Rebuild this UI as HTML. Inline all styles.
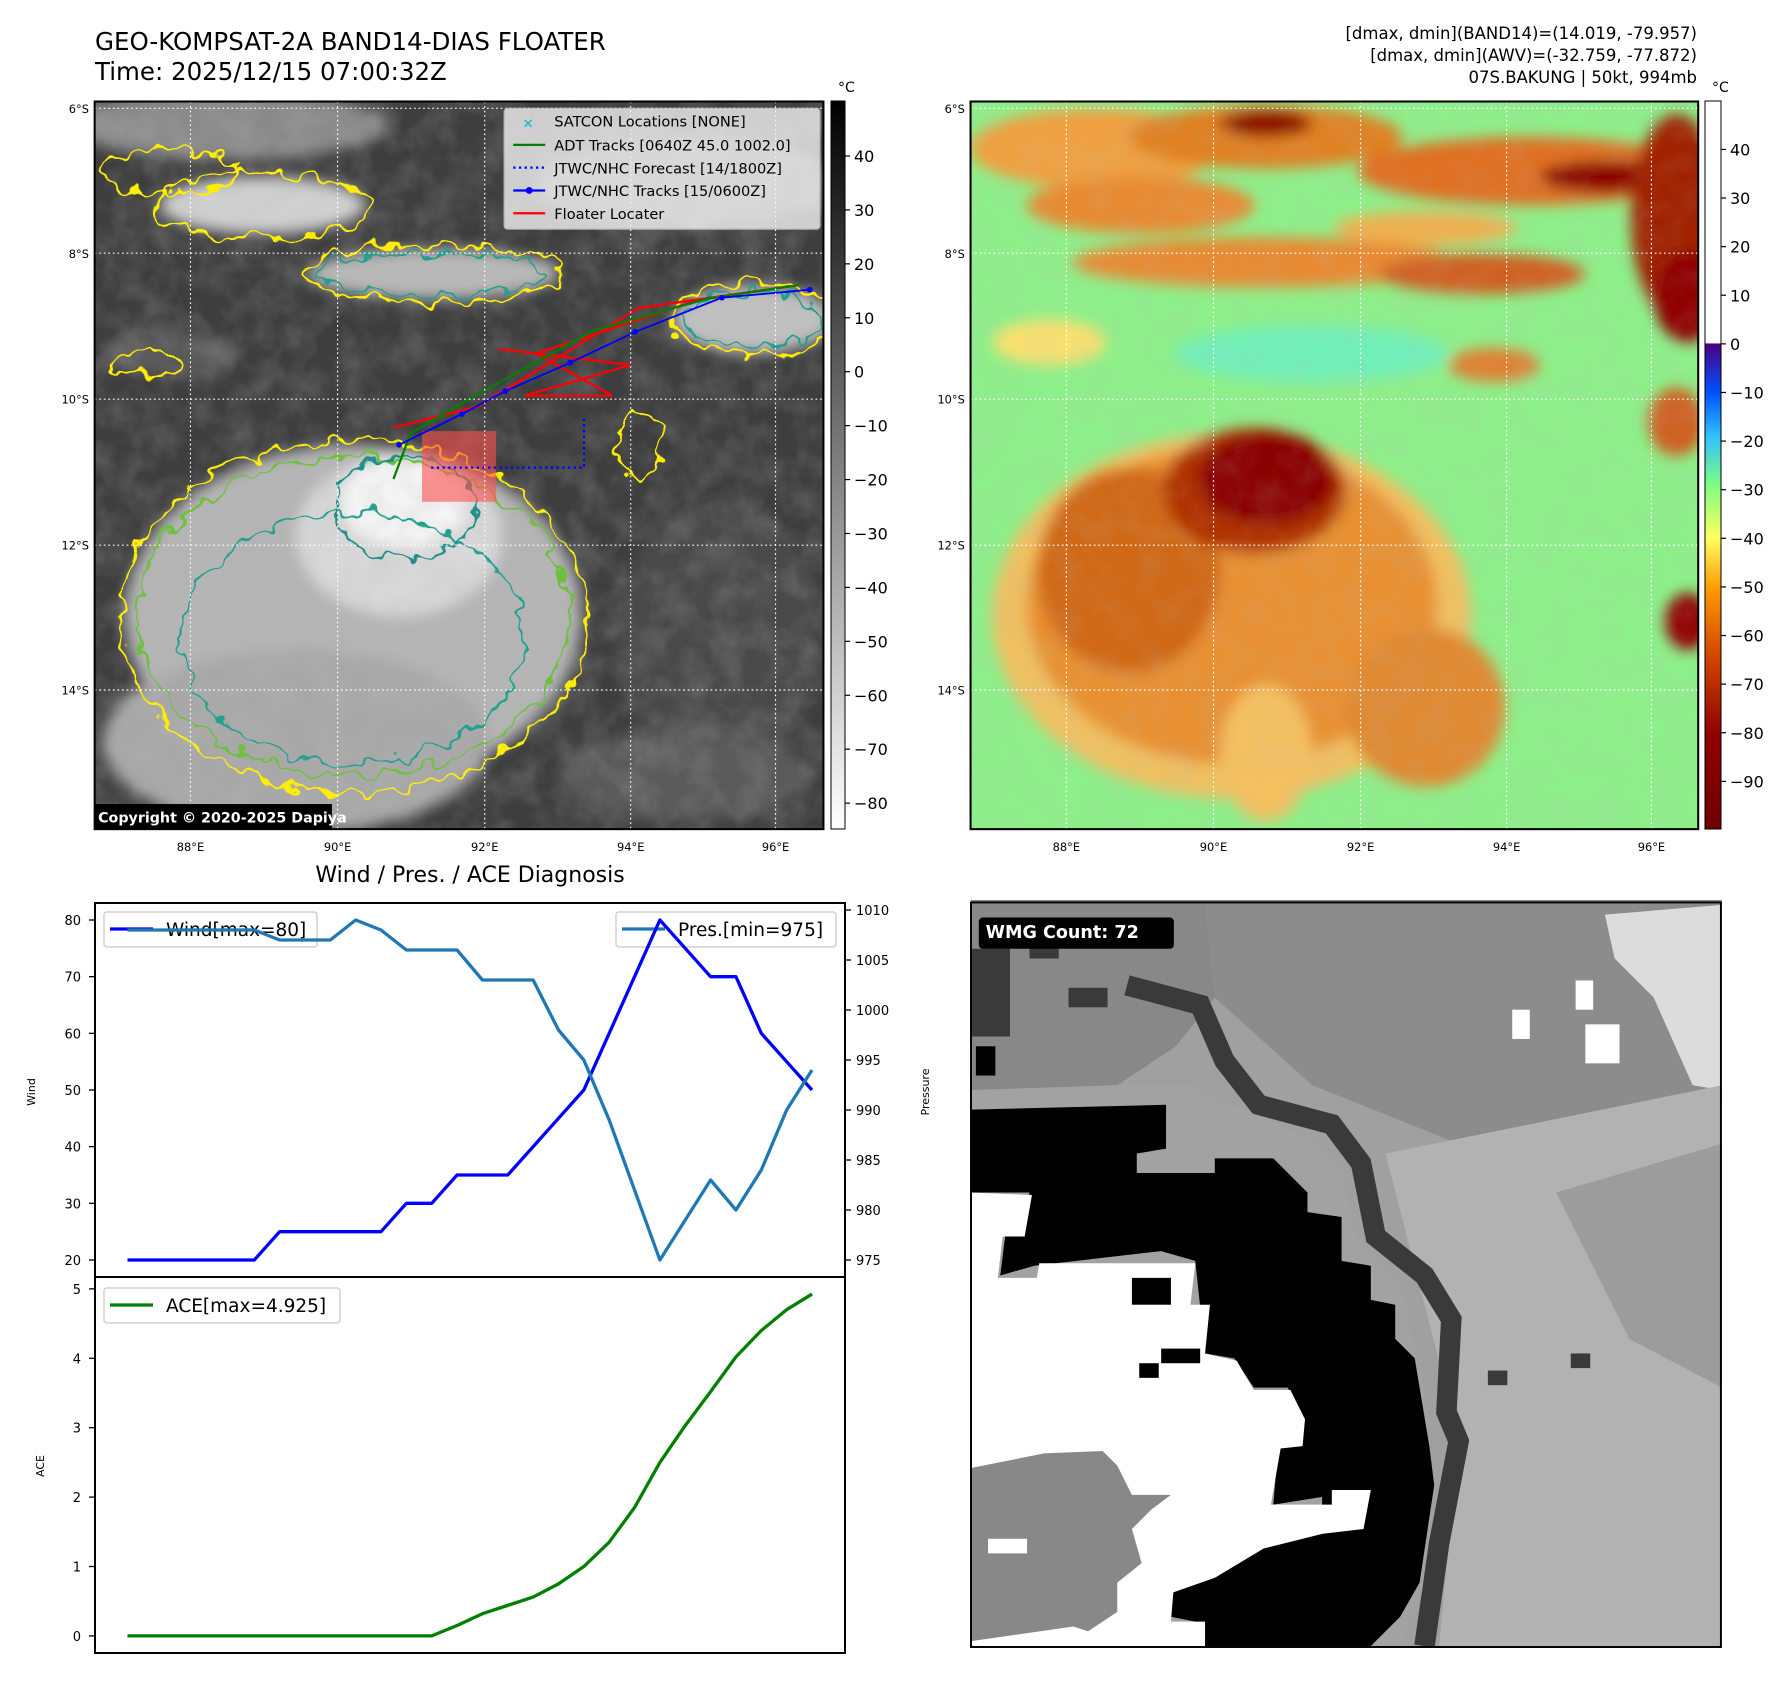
<!DOCTYPE html>
<html><head><meta charset="utf-8"><style>
html,body{margin:0;padding:0;background:#fff;}
svg{display:block;font-family:"DejaVu Sans","Liberation Sans",sans-serif;}
</style></head><body>
<svg id="root" width="1788" height="1690" viewBox="0 0 1788 1690" xmlns="http://www.w3.org/2000/svg">
<defs>
<linearGradient id="cbL" x1="0" y1="0" x2="0" y2="1"><stop offset="0" stop-color="#000"/><stop offset="1" stop-color="#fff"/></linearGradient>
<linearGradient id="cbR" x1="0" y1="0" x2="0" y2="1">
<stop offset="0" stop-color="#fff"/><stop offset="0.332" stop-color="#fff"/><stop offset="0.334" stop-color="#4b0082"/>
<stop offset="0.4" stop-color="#0050ff"/><stop offset="0.46" stop-color="#30c0ff"/><stop offset="0.53" stop-color="#80ff80"/>
<stop offset="0.6" stop-color="#ffff60"/><stop offset="0.67" stop-color="#ff9a00"/><stop offset="0.75" stop-color="#d85000"/>
<stop offset="0.87" stop-color="#900000"/><stop offset="1" stop-color="#700000"/></linearGradient>
<filter id="blurA"><feGaussianBlur stdDeviation="6"/></filter>
<filter id="wig" x="-10%" y="-10%" width="120%" height="120%"><feTurbulence type="fractalNoise" baseFrequency="0.06" numOctaves="2" seed="7" result="t"/><feDisplacementMap in="SourceGraphic" in2="t" scale="22" xChannelSelector="R" yChannelSelector="G"/></filter>
<filter id="noise" x="0" y="0" width="100%" height="100%"><feTurbulence type="fractalNoise" baseFrequency="0.04" numOctaves="3" seed="3"/><feColorMatrix type="matrix" values="0 0 0 0 0.5  0 0 0 0 0.5  0 0 0 0 0.5  0 0 0 1.2 -0.4"/></filter>
<clipPath id="clipL"><rect x="83" y="89" width="639" height="638"/></clipPath>
<clipPath id="clipR"><rect x="851" y="89" width="638" height="638"/></clipPath>
</defs>

<text x="95" y="50" font-size="24.5">GEO-KOMPSAT-2A BAND14-DIAS FLOATER</text>
<text x="95" y="80" font-size="24.5">Time: 2025/12/15 07:00:32Z</text>
<g font-size="16.5" text-anchor="end">
<text x="1697" y="39">[dmax, dmin](BAND14)=(14.019, -79.957)</text>
<text x="1697" y="61">[dmax, dmin](AWV)=(-32.759, -77.872)</text>
<text x="1697" y="83">07S.BAKUNG | 50kt, 994mb</text>
</g>

<g transform="scale(1.1405)">
<g clip-path="url(#clipL)">
<rect x="83" y="89" width="639" height="638" fill="#3e3e3e"/>
<g filter="url(#blurA)">
<ellipse cx="200" cy="110" rx="140" ry="30" fill="#8a8a8a"/>
<ellipse cx="230" cy="180" rx="90" ry="25" fill="#d0d0d0"/>
<ellipse cx="380" cy="240" rx="110" ry="22" fill="#b8b8b8"/>
<ellipse cx="600" cy="160" rx="130" ry="40" fill="#6a6a6a"/>
<ellipse cx="660" cy="280" rx="70" ry="30" fill="#c0c0c0"/>
<ellipse cx="150" cy="310" rx="60" ry="20" fill="#5a5a5a"/>
<ellipse cx="310" cy="540" rx="200" ry="150" fill="#b4b4b4"/>
<ellipse cx="260" cy="650" rx="170" ry="80" fill="#a8a8a8"/>
<ellipse cx="350" cy="470" rx="90" ry="70" fill="#d8d8d8"/>
<ellipse cx="355" cy="440" rx="55" ry="40" fill="#f4f4f4"/>
<ellipse cx="630" cy="560" rx="90" ry="120" fill="#4a4a4a"/>
<ellipse cx="600" cy="680" rx="110" ry="40" fill="#5a5a5a"/>
</g>
<rect x="83" y="89" width="639" height="638" filter="url(#noise)" opacity="0.35"/>
<g fill="none" stroke-width="2" filter="url(#wig)">
<ellipse cx="310" cy="540" rx="205" ry="155" stroke="#ffee00"/>
<ellipse cx="310" cy="540" rx="190" ry="140" stroke="#70c040"/>
<ellipse cx="310" cy="560" rx="150" ry="110" stroke="#20a090"/>
<ellipse cx="355" cy="445" rx="62" ry="45" stroke="#20908a"/>
<ellipse cx="230" cy="180" rx="95" ry="28" stroke="#ffee00"/>
<ellipse cx="380" cy="240" rx="115" ry="25" stroke="#ffee00"/>
<ellipse cx="380" cy="240" rx="100" ry="18" stroke="#20a090"/>
<ellipse cx="660" cy="280" rx="72" ry="32" stroke="#ffee00"/>
<ellipse cx="660" cy="280" rx="60" ry="24" stroke="#20a090"/>
<ellipse cx="560" cy="390" rx="20" ry="30" stroke="#ffee00"/>
<ellipse cx="150" cy="150" rx="60" ry="20" stroke="#ffee00"/>
<ellipse cx="130" cy="320" rx="30" ry="12" stroke="#ffee00"/>
</g>
<rect x="370" y="378" width="65" height="62" fill="#ff5050" opacity="0.6"/>
<polyline points="345,375 420,356 560,270 700,250" fill="none" stroke="#ff0000" stroke-width="2"/>
<polyline points="437,306 553,320 460,347 537,347 470,310 615,262" fill="none" stroke="#ff0000" stroke-width="2"/>
<polyline points="345,420 360,380 420,345 520,290 620,262 700,250" fill="none" stroke="#008000" stroke-width="2"/>
<polyline points="378,410 512,410 512,365" fill="none" stroke="#0000ff" stroke-width="2" stroke-dasharray="2,3"/>
<polyline points="350,390 405,363 443,343 500,318 557,291 633,261 710,254" fill="none" stroke="#0000ff" stroke-width="1.6"/>
<g fill="#0000ff"><circle cx="350" cy="390" r="2.5"/><circle cx="405" cy="363" r="2.5"/><circle cx="443" cy="343" r="2.5"/><circle cx="500" cy="318" r="2.5"/><circle cx="557" cy="291" r="2.5"/><circle cx="633" cy="261" r="2.5"/><circle cx="710" cy="254" r="2.5"/></g>
<g stroke="#fff" stroke-dasharray="1.5,2.5" stroke-width="1">
<line x1="83" y1="95" x2="722" y2="95"/><line x1="83" y1="222" x2="722" y2="222"/><line x1="83" y1="350" x2="722" y2="350"/><line x1="83" y1="478" x2="722" y2="478"/><line x1="83" y1="605" x2="722" y2="605"/>
<line x1="167" y1="89" x2="167" y2="727"/><line x1="296" y1="89" x2="296" y2="727"/><line x1="425" y1="89" x2="425" y2="727"/><line x1="553" y1="89" x2="553" y2="727"/><line x1="680" y1="89" x2="680" y2="727"/>
</g>
<g>
<rect x="442" y="95" width="277" height="106" rx="3" fill="#f2f2f2" opacity="0.8" stroke="#ccc"/>
<g font-size="12.8" fill="#000">
<text x="486" y="111">SATCON Locations [NONE]</text>
<text x="486" y="132">ADT Tracks [0640Z 45.0 1002.0]</text>
<text x="486" y="152">JTWC/NHC Forecast [14/1800Z]</text>
<text x="486" y="172">JTWC/NHC Tracks [15/0600Z]</text>
<text x="486" y="192">Floater Locater</text>
</g>
<text x="458" y="112" font-size="12" fill="#20c0c0" font-weight="bold">×</text>
<line x1="450" y1="127" x2="478" y2="127" stroke="#008000" stroke-width="2"/>
<line x1="450" y1="147" x2="478" y2="147" stroke="#0000ff" stroke-width="2" stroke-dasharray="2,3"/>
<line x1="450" y1="167" x2="478" y2="167" stroke="#0000ff" stroke-width="2"/><circle cx="464" cy="167" r="3" fill="#0000ff"/>
<line x1="450" y1="187" x2="478" y2="187" stroke="#ff0000" stroke-width="2"/>
</g>
<rect x="83" y="705" width="208" height="22" fill="#000"/>
<text x="86" y="721" font-size="12.5" font-weight="bold" fill="#fff">Copyright © 2020-2025 Dapiya</text>
</g>
<rect x="83" y="89" width="639" height="638" fill="none" stroke="#000" stroke-width="1.8"/>

<g clip-path="url(#clipR)">
<rect x="851" y="89" width="638" height="638" fill="#8ef08a"/>
<g filter="url(#blurA)">
<ellipse cx="1150" cy="310" rx="120" ry="25" fill="#70f0b8"/>
<ellipse cx="960" cy="130" rx="110" ry="35" fill="#f0a040"/>
<ellipse cx="1110" cy="120" rx="120" ry="28" fill="#e08020"/>
<ellipse cx="1110" cy="108" rx="40" ry="12" fill="#8b1000"/>
<ellipse cx="1000" cy="180" rx="100" ry="25" fill="#e88a30"/>
<ellipse cx="1340" cy="150" rx="150" ry="30" fill="#e07020"/>
<ellipse cx="1410" cy="155" rx="60" ry="14" fill="#8b0000"/>
<ellipse cx="1110" cy="230" rx="170" ry="22" fill="#e88a30"/>
<ellipse cx="1300" cy="240" rx="90" ry="18" fill="#d06020"/>
<ellipse cx="1250" cy="200" rx="80" ry="15" fill="#f0b050"/>
<ellipse cx="1470" cy="190" rx="40" ry="90" fill="#a02000"/>
<ellipse cx="1480" cy="260" rx="30" ry="40" fill="#900000"/>
<ellipse cx="1470" cy="370" rx="25" ry="30" fill="#d06020"/>
<ellipse cx="1480" cy="545" rx="20" ry="25" fill="#900000"/>
<ellipse cx="1310" cy="320" rx="40" ry="15" fill="#e08030"/>
<ellipse cx="920" cy="300" rx="50" ry="20" fill="#f8e070"/>
<ellipse cx="1080" cy="540" rx="210" ry="160" fill="#f0c060"/>
<ellipse cx="1080" cy="530" rx="180" ry="140" fill="#e89030"/>
<ellipse cx="990" cy="500" rx="80" ry="90" fill="#d06818"/>
<ellipse cx="1250" cy="620" rx="70" ry="70" fill="#e08a30"/>
<ellipse cx="1100" cy="430" rx="80" ry="55" fill="#b03000"/>
<ellipse cx="1110" cy="420" rx="60" ry="40" fill="#8b0000"/>
<ellipse cx="1110" cy="660" rx="40" ry="60" fill="#f4c060"/>
</g>
<rect x="851" y="89" width="638" height="638" filter="url(#noise)" opacity="0.2"/>
<g stroke="#fff" stroke-dasharray="1.5,2.5" stroke-width="1">
<line x1="851" y1="95" x2="1489" y2="95"/><line x1="851" y1="222" x2="1489" y2="222"/><line x1="851" y1="350" x2="1489" y2="350"/><line x1="851" y1="478" x2="1489" y2="478"/><line x1="851" y1="605" x2="1489" y2="605"/>
<line x1="935" y1="89" x2="935" y2="727"/><line x1="1064" y1="89" x2="1064" y2="727"/><line x1="1193" y1="89" x2="1193" y2="727"/><line x1="1321" y1="89" x2="1321" y2="727"/><line x1="1448" y1="89" x2="1448" y2="727"/>
</g>
</g>
<rect x="851" y="89" width="638" height="638" fill="none" stroke="#000" stroke-width="1.8"/>

<g font-size="10" text-anchor="end">
<text x="78" y="99">6°S</text><text x="78" y="226">8°S</text><text x="78" y="354">10°S</text><text x="78" y="482">12°S</text><text x="78" y="609">14°S</text>
<text x="846" y="99">6°S</text><text x="846" y="226">8°S</text><text x="846" y="354">10°S</text><text x="846" y="482">12°S</text><text x="846" y="609">14°S</text>
</g>
<g font-size="10" text-anchor="middle">
<text x="167" y="746">88°E</text><text x="296" y="746">90°E</text><text x="425" y="746">92°E</text><text x="553" y="746">94°E</text><text x="680" y="746">96°E</text>
<text x="935" y="746">88°E</text><text x="1064" y="746">90°E</text><text x="1193" y="746">92°E</text><text x="1321" y="746">94°E</text><text x="1448" y="746">96°E</text>
</g>
</g>

<rect x="831" y="101" width="14" height="728" fill="url(#cbL)" stroke="#000" stroke-width="1"/>
<text x="838" y="92" font-size="14">°C</text>
<g id="cbLticks"></g>
<rect x="1705" y="101" width="16" height="728" fill="url(#cbR)" stroke="#000" stroke-width="1"/>
<text x="1712" y="92" font-size="14">°C</text>
<g id="cbRticks"></g>

<text x="470" y="882" font-size="22" text-anchor="middle">Wind / Pres. / ACE Diagnosis</text>
<g id="chart"></g>

<g transform="translate(971,900) scale(0.4876)">
<rect x="0" y="5" width="1538" height="1527" fill="#a0a0a0"/>
<polygon points="480,0 1540,0 1540,420 1000,500 700,380 500,200" fill="#8c8c8c"/>
<polygon points="1300,30 1540,10 1540,390 1480,380 1400,200 1320,120" fill="#dcdcdc"/>
<polygon points="850,520 1540,380 1540,1530 960,1530 1000,1100" fill="#b2b2b2"/>
<polygon points="1200,600 1540,500 1540,1000 1350,900" fill="#9c9c9c"/>
<polygon points="0,0 480,0 500,200 420,300 300,380 0,390" fill="#888"/>
<g fill="#3a3a3a"><rect x="0" y="100" width="80" height="180"/><rect x="120" y="60" width="60" height="60"/><rect x="200" y="180" width="80" height="40"/><rect x="10" y="300" width="40" height="60" fill="#000"/><rect x="1230" y="930" width="40" height="30"/><rect x="1060" y="965" width="40" height="30"/></g>
<g fill="#fff"><rect x="1110" y="225" width="36" height="60"/><rect x="1240" y="165" width="36" height="60"/><rect x="1260" y="255" width="70" height="80"/></g>
<polyline points="320,175 470,215 520,330 590,420 740,460 800,540 830,690 930,770 985,860 975,1050 1000,1110 960,1320 930,1530" fill="none" stroke="#3a3a3a" stroke-width="42"/>
<polygon points="0,390 300,380 450,380 520,420 600,445 690,490 760,560 790,690 880,790 930,1000 950,1200 925,1420 880,1530 0,1530" fill="#a2a2a2"/>
<polygon points="0,430 400,420 400,510 340,520 340,560 500,560 500,530 620,530 690,600 690,640 760,650 760,740 820,750 820,820 870,830 870,900 910,940 940,1120 950,1200 920,1400 880,1470 820,1530 480,1530 460,1480 410,1470 410,1420 500,1390 550,1360 600,1330 720,1300 720,1210 810,1210 620,1240 630,1120 680,1080 650,1000 580,1000 540,940 480,930 460,740 390,720 130,750 60,770 70,690 110,690 120,600 0,600" fill="#000"/>
<polygon points="0,600 125,605 110,690 65,690 55,775 135,775 140,745 460,745 450,830 490,830 480,930 545,945 580,1005 655,1005 685,1065 680,1120 635,1125 615,1240 740,1240 740,1210 820,1210 805,1290 720,1300 600,1330 550,1360 500,1390 415,1420 410,1480 480,1480 480,1530 0,1530" fill="#fff"/>
<polygon points="0,1165 150,1135 270,1130 300,1160 330,1220 410,1220 370,1250 330,1290 350,1360 300,1400 300,1460 240,1500 210,1490 0,1520" fill="#888"/>
<g fill="#000"><rect x="330" y="775" width="80" height="55"/><rect x="390" y="920" width="80" height="30"/><rect x="345" y="950" width="40" height="30"/></g>
<rect x="35" y="1310" width="80" height="30" fill="#fff"/>
<rect x="0" y="5" width="1538" height="1527" fill="none" stroke="#000" stroke-width="4"/>
<rect x="16" y="36" width="400" height="64" rx="8" fill="#000"/>
<text x="30" y="78" font-size="36" font-weight="bold" fill="#fff">WMG Count: 72</text>
</g>
</svg>
<script>
const windVals=[20,20,20,20,20,20,25,25,25,25,25,30,30,35,35,35,40,45,50,60,70,80,75,70,70,60,55,50];
const presVals=[1008,1008,1008,1008,1008,1008,1007,1007,1007,1009,1008,1006,1006,1006,1003,1003,1003,998,995,989,982,975,979,983,980,984,990,994];
const aceVals=[0,0,0,0,0,0,0,0,0,0,0,0,0,0.15,0.32,0.44,0.56,0.75,1.0,1.35,1.85,2.5,3.03,3.52,4.02,4.4,4.7,4.925];
const windTicks=[20,30,40,50,60,70,80];
const presTicks=[975,980,985,990,995,1000,1005,1010];
const aceTicks=[0,1,2,3,4,5];
const cbLTicks=[40,30,20,10,0,-10,-20,-30,-40,-50,-60,-70,-80];
const cbRTicks=[40,30,20,10,0,-10,-20,-30,-40,-50,-60,-70,-80,-90];

const NS="http://www.w3.org/2000/svg";
function mk(tag,attrs,parent){const e=document.createElementNS(NS,tag);for(const k in attrs)e.setAttribute(k,attrs[k]);parent.appendChild(e);return e;}
const L=95,R=845,T=903,M=1277,B=1653;
const n=windVals.length;
const xS=i=>127.5+i*(812-127.5)/(n-1);
const wMin=Math.min(...windVals),wMax=Math.max(...windVals),wPad=(wMax-wMin)*0.05;
const yW=v=>M-(v-(wMin-wPad))/((wMax+wPad)-(wMin-wPad))*(M-T);
const pMin=Math.min(...presVals),pMax=Math.max(...presVals),pPad=(pMax-pMin)*0.05;
const yP=v=>M-(v-(pMin-pPad))/((pMax+pPad)-(pMin-pPad))*(M-T);
const aMax=Math.max(...aceVals),aPad=aMax*0.05;
const yA=v=>B-(v+aPad)/(aMax+2*aPad)*(B-M);
const g=document.getElementById('chart');

function axisTicks(ticks,yf,side){
  ticks.forEach(t=>{
    const y=yf(t);
    const x0=side==='left'?L:R;
    const tk=mk('line',{x1:x0,x2:side==='left'?x0-6:x0+6,y1:y,y2:y,stroke:'#000','stroke-width':1.3},g);
    
    
    const tx=mk('text',{x:side==='left'?x0-14:x0+11,y:y+5,'font-size':13,'text-anchor':side==='left'?'end':'start'},g);
    tx.textContent=t;
    
    
  });
}
axisTicks(windTicks,yW,'left');
axisTicks(presTicks,yP,'right');
axisTicks(aceTicks,yA,'left');

function line(vals,yf,color,name){
  const p=mk('polyline',{points:vals.map((v,i)=>xS(i)+','+yf(v)).join(' '),fill:'none',stroke:color,'stroke-width':3.3,'stroke-linejoin':'round'},g);
  
  
}

function legend(x,y,w,color,label,name){
  const r=mk('rect',{x:x,y:y,width:w,height:35,rx:3,fill:'#fff','fill-opacity':0.8,stroke:'#d0d0d0','stroke-width':1.5},g);
  
  
  mk('line',{x1:x+6,x2:x+49,y1:y+17,y2:y+17,stroke:color,'stroke-width':3.3},g);
  const t=mk('text',{x:x+62,y:y+24,'font-size':18.5},g);
  t.textContent=label;
  
  
}
legend(104,912,213,'#0000ff','Wind[max='+wMax+']','wind-legend');
legend(616,912,220,'#1f77b4','Pres.[min='+pMin+']','pressure-legend');
legend(104,1288,236,'#008000','ACE[max='+aMax+']','ace-legend');
line(windVals,yW,'#0000ff','wind-line');
line(presVals,yP,'#1f77b4','pressure-line');
line(aceVals,yA,'#008000','ace-line');

const f1=mk('rect',{x:L,y:T,width:R-L,height:M-T,fill:'none',stroke:'#000','stroke-width':2},g);


const f2=mk('rect',{x:L,y:M,width:R-L,height:B-M,fill:'none',stroke:'#000','stroke-width':2},g);



function vlabel(x,y,txt,name){
  const t=mk('text',{x:x,y:y,'font-size':11,'text-anchor':'middle',transform:'rotate(-90 '+x+' '+y+')'},g);
  t.textContent=txt;
  
  
}
vlabel(35,1092,'Wind','wind-axis-title');
vlabel(929,1092,'Pressure','pressure-axis-title');
vlabel(44,1466,'ACE','ace-axis-title');

function cbTicks(id,ticks,x,top,bottom,vTop,vBot){
  const gg=document.getElementById(id);
  ticks.forEach(t=>{
    const y=top+(vTop-t)/(vTop-vBot)*(bottom-top);
    mk('line',{x1:x,x2:x+5,y1:y,y2:y,stroke:'#000','stroke-width':1.2},gg);
    const tx=mk('text',{x:x+9,y:y+6,'font-size':16},gg);
    tx.textContent=t===0?'0':(t<0?'\u2212'+(-t):t);
    
    
  });
}
cbTicks('cbLticks',cbLTicks,845,101,829,50.2,-84.8);
cbTicks('cbRticks',cbRTicks,1721,101,829,49.96,-99.8);
</script>
</body></html>
